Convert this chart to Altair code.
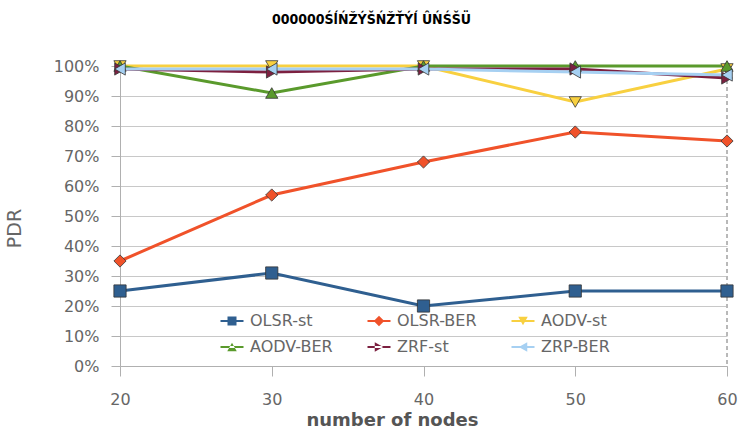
import altair as alt
import pandas as pd

nodes = [20, 30, 40, 50, 60]
series_names = ["OLSR-st", "OLSR-BER", "AODV-st", "AODV-BER", "ZRF-st", "ZRP-BER"]
olsr_st = [0.25, 0.31, 0.20, 0.25, 0.25]
olsr_ber = [0.35, 0.57, 0.68, 0.78, 0.75]
aodv_st = [1.00, 1.00, 1.00, 0.88, 0.99]
aodv_ber = [1.00, 0.91, 1.00, 1.00, 1.00]
zrf_st = [0.99, 0.98, 0.99, 0.99, 0.96]
zrp_ber = [0.99, 0.99, 0.99, 0.98, 0.97]
line_colors = ["#2f5f90", "#f0522a", "#f8d040", "#5a9a2c", "#7c2040", "#a6d0f2"]
shapes = ["square", "diamond", "triangle-down", "triangle-up", "triangle-right", "triangle-left"]
# legend glyphs: short line with the marker on it
bar = "M-2.3,-0.18H2.3V0.18H-2.3Z "
legend_shapes = [
    bar + "M-0.9,-0.9H0.9V0.9H-0.9Z",
    bar + "M0,-1.05L1.05,0L0,1.05L-1.05,0Z",
    bar + "M-0.95,-0.85H0.95L0,0.85Z",
    bar + "M-0.95,0.85H0.95L0,-0.85Z",
    bar + "M-0.85,-0.95V0.95L0.85,0Z",
    bar + "M0.85,-0.95V0.95L-0.85,0Z",
]
title_text = "000000ŚĺŃŽÝŠŃŽŤÝĺ ÛŃŚŠÜ"

vals = [olsr_st, olsr_ber, aodv_st, aodv_ber, zrf_st, zrp_ber]
rows = []
for name, v in zip(series_names, vals):
    for n, y in zip(nodes, v):
        rows.append({"nodes": n, "pdr": y, "series": name})
df = pd.DataFrame(rows)

xscale = alt.Scale(domain=[20, 60], nice=False, zero=False)
x = alt.X("nodes:Q", scale=xscale,
          axis=alt.Axis(values=nodes, title="number of nodes", grid=False,
                        domainColor="#b0b0b0", tickColor="#b0b0b0", tickSize=10,
                        labelFlush=False,
                        labelFont="DejaVu Sans", labelFontSize=16, labelColor="#666666",
                        labelPadding=15, titleFont="DejaVu Sans", titleFontSize=18,
                        titleFontWeight="bold", titleColor="#555555",
                        titleX=272, titleY=59, titleBaseline="alphabetic"))
y = alt.Y("pdr:Q", scale=alt.Scale(domain=[0, 1], nice=False),
          axis=alt.Axis(values=[i / 10 for i in range(11)], format=".0%", title="PDR",
                        gridColor="#c8c8c8", domainColor="#b0b0b0", tickColor="#b0b0b0",
                        tickSize=9, labelFont="DejaVu Sans", labelFontSize=16,
                        labelColor="#666666", labelPadding=12, titleFont="DejaVu Sans",
                        titleFontSize=19, titleFontWeight="normal", titleColor="#666666",
                        titleX=-96, titleY=162, titleBaseline="bottom"))

legend = alt.Legend(title=None, orient="none", legendX=104, legendY=247,
                    direction="horizontal",
                    columns=3, columnPadding=34, rowPadding=10,
                    labelFont="DejaVu Sans", labelFontSize=16, labelOffset=10,
                    labelColor="#666666", symbolSize=100,
                    symbolStrokeWidth=0, labelLimit=200)
color_scale = alt.Scale(domain=series_names, range=line_colors)
color = alt.Color("series:N", scale=color_scale, legend=legend)
legend_shape = alt.Shape("series:N", scale=alt.Scale(domain=series_names, range=legend_shapes),
                         legend=legend)

base = alt.Chart(df)
lines = base.mark_line(strokeWidth=3).encode(x=x, y=y, color=color)
point_layers = [
    base.transform_filter(alt.datum.series == name).mark_point(
        shape=shp, filled=True, size=150, stroke="#333333", strokeWidth=0.8, opacity=1
    ).encode(x=x, y=y, color=color)
    for name, shp in zip(series_names, shapes)
]
legend_layer = base.transform_filter("false").mark_point(filled=True, opacity=1).encode(
    x=x, y=y, color=color, shape=legend_shape)
right_rule = base.mark_rule(color="#b8b8b8", strokeDash=[4, 3], strokeWidth=1).encode(
    x=alt.datum(60, scale=xscale))

chart = alt.layer(right_rule, lines, *point_layers, legend_layer).properties(
    width=607, height=300,
    title=alt.Title(title_text, font="DejaVu Sans Condensed", fontSize=14,
                    fontWeight="bold", color="#000000", anchor="middle", dx=-52, offset=31),
    padding={"left": 120, "top": 66, "right": 13, "bottom": 62},
    autosize=alt.AutoSizeParams(type="none"),
).configure_view(stroke=None)

chart.save("out.html", embed_options={"renderer": "svg", "actions": False})
